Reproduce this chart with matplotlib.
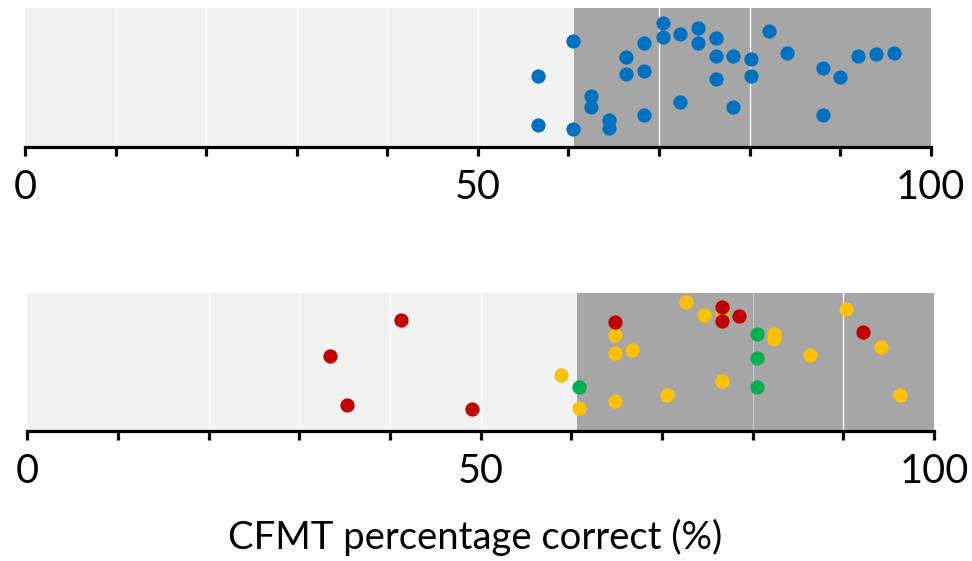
import matplotlib
matplotlib.use("Agg")
import matplotlib.pyplot as plt

plt.rcParams['font.family'] = ['Lato', 'DejaVu Sans']

# ---------------- data ----------------
# Top panel (blue): x = CFMT % correct, y = vertical jitter (arbitrary units)
top_x = [56.6, 56.6, 60.5, 60.5, 62.5, 62.5, 64.5, 64.5, 66.4, 66.4,
         68.4, 68.4, 68.4, 70.4, 70.4, 72.3, 72.3, 74.3, 74.3, 76.3,
         76.3, 76.3, 78.2, 78.2, 80.2, 80.2, 82.2, 84.1, 88.1, 88.1,
         90.0, 92.0, 94.0, 95.9]
top_y = [70.7, 21.4, 105.4, 17.4, 51.0, 39.4, 26.7, 18.4, 90.0, 72.7,
         103.4, 75.7, 31.7, 123.4, 110.0, 112.4, 45.0, 118.4, 104.0, 109.0,
         90.7, 68.0, 90.7, 40.0, 87.7, 70.7, 115.7, 93.4, 78.4, 31.7,
         69.4, 91.0, 92.7, 94.0]

# Bottom panel, three groups
yellow_x = [72.6, 76.6, 74.6, 64.8, 64.8, 66.7, 58.9, 60.9, 64.8, 70.6,
            76.6, 82.4, 82.4, 86.3, 90.3, 94.2, 96.2]
yellow_y = [129.7, 119.0, 116.0, 96.4, 78.4, 81.0, 55.7, 22.7, 30.0, 36.0,
            49.7, 97.4, 92.4, 76.4, 122.4, 84.0, 36.4]
green_x = [60.9, 80.5, 80.5, 80.5]
green_y = [43.7, 97.4, 73.4, 44.0]
red_x = [33.4, 41.2, 35.3, 49.0, 76.6, 76.6, 78.5, 64.8, 92.2]
red_y = [75.4, 111.4, 25.4, 21.4, 124.7, 110.0, 115.7, 109.4, 99.0]

threshold = 60.6
major_ticks = [0, 50, 100]
major_labels = ['0', '50', '100']
minor_ticks = [10, 20, 30, 40, 60, 70, 80, 90]
top_grid = [10, 20, 30, 40, 50, 70, 80]
bottom_grid = [20, 30, 40, 50, 90]
bottom_faint_grid = [80]
xlabel = 'CFMT percentage correct (%)'

# ---------------- figure ----------------
W, H = 972, 561
fig = plt.figure(figsize=(W / 100, H / 100), dpi=100)

def px_axes(x0, y0, x1, y1):
    return fig.add_axes([x0 / W, 1 - y1 / H, (x1 - x0) / W, (y1 - y0) / H])

ax_top = px_axes(25, 8, 930.7, 146.7)
ax_bot = px_axes(27.3, 293, 934, 430.7)

def style(ax, grid, faint=()):
    ax.set_xlim(0, 100)
    ax.set_ylim(0, 138.5)
    ax.set_facecolor('#F2F2F2')
    ax.axvspan(threshold, 100, color='#A6A6A6', lw=0, zorder=0)
    for g in grid:
        ax.axvline(g, color='white', lw=0.9, zorder=1)
    for g in faint:
        ax.axvline(g, color='white', lw=0.9, alpha=0.35, zorder=1)
    for s in ['top', 'left', 'right']:
        ax.spines[s].set_visible(False)
    ax.spines['bottom'].set_linewidth(2.3)
    ax.spines['bottom'].set_color('black')
    ax.set_yticks([])
    ax.set_xticks(major_ticks)
    ax.set_xticklabels(major_labels)
    ax.set_xticks(minor_ticks, minor=True)
    ax.tick_params(axis='x', which='both', direction='out', length=6.8,
                   width=2.3, color='black')
    ax.tick_params(axis='x', which='major', labelsize=28.5, pad=9.5)

style(ax_top, top_grid)
style(ax_bot, bottom_grid, bottom_faint_grid)

ms = 105
ax_top.scatter(top_x, top_y, s=ms, color='#0070C0', lw=0, zorder=3, clip_on=False)
ax_bot.scatter(yellow_x, yellow_y, s=ms, color='#FFC000', lw=0, zorder=3, clip_on=False)
ax_bot.scatter(green_x, green_y, s=ms, color='#00B050', lw=0, zorder=4, clip_on=False)
ax_bot.scatter(red_x, red_y, s=ms, color='#C00000', lw=0, zorder=5, clip_on=False)

fig.text(475 / W, 1 - 537 / H, xlabel, fontsize=27.5, ha='center', va='center')

fig.savefig('out.png', dpi=100, facecolor='white')
